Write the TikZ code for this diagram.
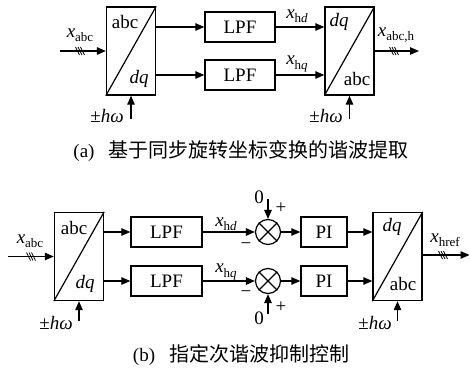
\documentclass[tikz,border=0pt]{standalone}
\usepackage{fontspec}
\setmainfont{Liberation Serif}
\newfontfamily\cjk{Noto Sans CJK SC}
\usetikzlibrary{arrows.meta}
\newcommand\sbs[1]{\raisebox{-0.22em}{\fontsize{13}{13}\selectfont #1}}
\begin{document}
\begin{tikzpicture}[x=1pt,y=-1pt,
  line width=1.2pt,
  txt/.style={font=\fontsize{19}{21}\selectfont, inner sep=0pt},
  box/.style={draw, line width=1.4pt, minimum height=30pt, inner sep=0pt, font=\fontsize{19}{21}\selectfont},
  conv/.style={draw, line width=1.4pt, minimum width=49pt, minimum height=88pt, inner sep=0pt},
  sumc/.style={draw, circle, line width=1.2pt, minimum size=25pt, inner sep=0pt},
  arr/.style={-{Triangle[length=9pt,width=7.5pt]}},
  hatch/.style={line width=0.8pt},
  captxt/.style={inner sep=0pt, font=\fontsize{19}{22}\selectfont},
]
\useasboundingbox (0,0) rectangle (470,371);

% ---------- (a) ----------
\node[conv] (A1) at (131,51) {};
\draw[line width=1.2pt] (A1.south west) -- (A1.north east);
\node[txt] at (125,22) {abc};
\node[txt] at (139,79) {\textit{dq}};

\coordinate (inA) at (60,51);
\draw[arr] (inA) -- (A1.west);
\foreach \dx in {-2.5,0,2.5} \draw[hatch] (80+\dx-2,47) -- (80+\dx+2,55);
\node[txt] at (80,35) {\textit{x}\sbs{abc}};

\coordinate (hA1) at (131,119);
\draw[arr] (hA1) -- (A1.south);
\node[txt] at (107,116) {±\textit{hω}};

\node[box, minimum width=70pt] (L1) at (240,27) {LPF};
\node[box, minimum width=70pt] (L2) at (240,75) {LPF};
\draw[arr] (A1.east |- L1) -- (L1.west);
\draw[arr] (A1.east |- L2) -- (L2.west);

\node[conv] (A2) at (349.5,51) {};
\draw[line width=1.2pt] (A2.south west) -- (A2.north east);
\node[txt] at (339,22) {\textit{dq}};
\node[txt] at (357,79) {abc};

\draw[arr] (L1.east) -- (A2.west |- L1);
\draw[arr] (L2.east) -- (A2.west |- L2);
\node[txt] at (297,16) {\textit{x}\sbs{h\textit{d}}};
\node[txt] at (297,64) {\textit{x}\sbs{h\textit{q}}};

\coordinate (outA) at (419,51);
\draw[arr] (A2.east) -- (outA);
\foreach \dx in {-2.5,0,2.5} \draw[hatch] (394+\dx-2,47) -- (394+\dx+2,55);
\node[txt] at (396,35) {\textit{x}\sbs{abc,h}};

\coordinate (hA2) at (349.5,119);
\draw[arr] (hA2) -- (A2.south);
\node[txt] at (326,116) {±\textit{hω}};

\node[captxt] (capA) at (241,151) {(a)\hspace{14pt}{\cjk\fontsize{20}{22}\selectfont 基于同步旋转坐标变换的谐波提取}};

% ---------- (b) ----------
\node[conv] (B1) at (79,256.5) {};
\draw[line width=1.2pt] (B1.south west) -- (B1.north east);
\node[txt] at (74,228) {abc};
\node[txt] at (85,284) {\textit{dq}};

\coordinate (inB) at (8,256.5);
\draw[arr] (inB) -- (B1.west);
\foreach \dx in {-2.5,0,2.5} \draw[hatch] (31+\dx-2,252.5) -- (31+\dx+2,260.5);
\node[txt] at (30,241) {\textit{x}\sbs{abc}};

\coordinate (hB1) at (79,321);
\draw[arr] (hB1) -- (B1.south);
\node[txt] at (56,323) {±\textit{hω}};

\node[box, minimum width=71pt] (L3) at (166.5,232) {LPF};
\node[box, minimum width=71pt] (L4) at (166.5,281) {LPF};
\draw[arr] (B1.east |- L3) -- (L3.west);
\draw[arr] (B1.east |- L4) -- (L4.west);

\node[sumc] (S1) at (268,232) {};
\node[sumc] (S2) at (268,281) {};
\foreach \s in {S1,S2} {
  \draw[line width=1.2pt] (\s.north west) -- (\s.south east);
  \draw[line width=1.2pt] (\s.north east) -- (\s.south west);
}
\draw[arr] (L3.east) -- (S1.west);
\draw[arr] (L4.east) -- (S2.west);
\node[txt] at (226,224) {\textit{x}\sbs{h\textit{d}}};
\node[txt] at (226,272) {\textit{x}\sbs{h\textit{q}}};
\node[txt] at (246,246) {−};
\node[txt] at (246,294) {−};

\coordinate (z1) at (268,199);
\coordinate (z2) at (268,314);
\draw[arr] (z1) -- (S1.north);
\draw[arr] (z2) -- (S2.south);
\node[txt] at (259,197) {0};
\node[txt] at (259,318) {0};
\node[txt] at (281,208) {+};
\node[txt] at (281,307) {+};

\node[box, minimum width=46pt] (P1) at (324,232) {PI};
\node[box, minimum width=46pt] (P2) at (324,281) {PI};
\draw[arr] (S1.east) -- (P1.west);
\draw[arr] (S2.east) -- (P2.west);

\node[conv] (B2) at (397.5,256.5) {};
\draw[line width=1.2pt] (B2.south west) -- (B2.north east);
\node[txt] at (392,227) {\textit{dq}};
\node[txt] at (403,284) {abc};
\draw[arr] (P1.east) -- (B2.west |- P1);
\draw[arr] (P2.east) -- (B2.west |- P2);

\coordinate (outB) at (469.5,255);
\draw[arr] (B2.east |- outB) -- (outB);
\foreach \dx in {-2.5,0,2.5} \draw[hatch] (443+\dx-2,251) -- (443+\dx+2,259);
\node[txt] at (445,240) {\textit{x}\sbs{href}};

\coordinate (hB2) at (397.5,321);
\draw[arr] (hB2) -- (B2.south);
\node[txt] at (375,323) {±\textit{hω}};

\node[captxt] (capB) at (241,355) {(b)\hspace{14pt}{\cjk\fontsize{20}{22}\selectfont 指定次谐波抑制控制}};
\end{tikzpicture}
\end{document}
